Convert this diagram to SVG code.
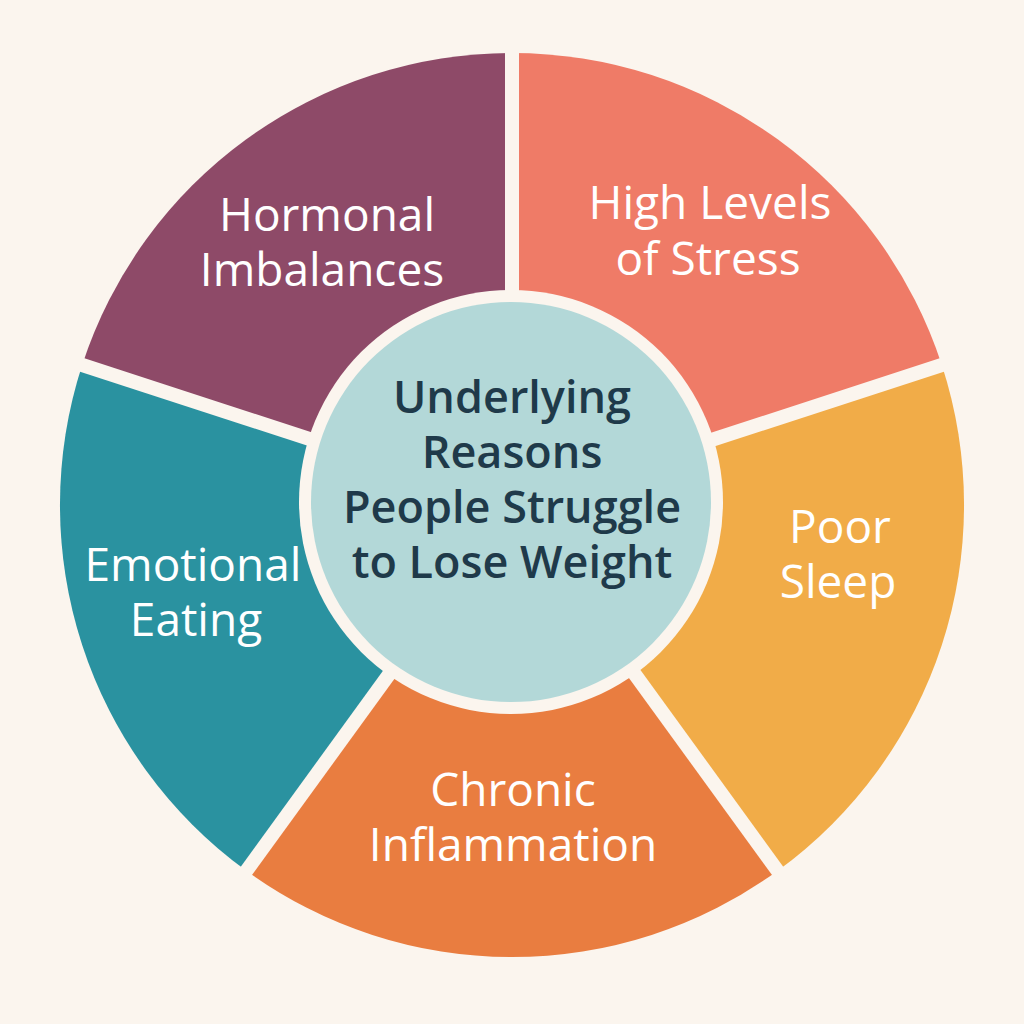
<svg xmlns="http://www.w3.org/2000/svg" width="1024" height="1024" viewBox="0 0 1024 1024">
<style>
.lbl{font-family:"Open Sans","Liberation Sans",sans-serif;font-size:46px;fill:#fff;text-anchor:middle}
.ctr{font-family:"Open Sans","Liberation Sans",sans-serif;font-size:45px;font-weight:600;fill:#1F3A4A;text-anchor:middle}
.gap{stroke:#FBF5EE;stroke-width:14}
</style>
<rect width="1024" height="1024" fill="#FBF5EE"/>
<g id="hormonal"><path d="M512,505 L82.1,365.3 A452,452 0 0 1 512,53 Z" fill="#8E4A68"/>
<text class="lbl" x="327" y="231">Hormonal</text><text class="lbl" x="322" y="286">Imbalances</text></g>
<g id="stress"><path d="M512,505 L512,53 A452,452 0 0 1 941.9,365.3 Z" fill="#EF7B67"/>
<text class="lbl" x="710" y="219">High Levels</text><text class="lbl" x="708" y="275">of Stress</text></g>
<g id="sleep"><path d="M512,505 L941.9,365.3 A452,452 0 0 1 777.7,870.7 Z" fill="#F1AC48"/>
<text class="lbl" x="840" y="543">Poor</text><text class="lbl" x="838" y="598">Sleep</text></g>
<g id="chronic"><path d="M512,505 L777.7,870.7 A452,452 0 0 1 246.3,870.7 Z" fill="#E97D40"/>
<text class="lbl" x="513" y="806">Chronic</text><text class="lbl" x="513" y="861">Inflammation</text></g>
<g id="emotional"><path d="M512,505 L246.3,870.7 A452,452 0 0 1 82.1,365.3 Z" fill="#2A92A0"/>
<text class="lbl" x="193" y="581">Emotional</text><text class="lbl" x="196" y="636">Eating</text></g>
<g id="connectors">
<line class="gap" x1="512" y1="505" x2="512" y2="40"/>
<line class="gap" x1="512" y1="505" x2="954" y2="361"/>
<line class="gap" x1="512" y1="505" x2="785" y2="881"/>
<line class="gap" x1="512" y1="505" x2="239" y2="881"/>
<line class="gap" x1="512" y1="505" x2="70" y2="361"/>
</g>
<g id="center">
<circle cx="511" cy="502" r="212" fill="#FBF5EE"/>
<circle cx="511" cy="502" r="200" fill="#B3D8D8"/>
<text class="ctr" x="512" y="413">Underlying</text>
<text class="ctr" x="512" y="468">Reasons</text>
<text class="ctr" x="512" y="523">People Struggle</text>
<text class="ctr" x="512" y="578">to Lose Weight</text>
</g>
</svg>
